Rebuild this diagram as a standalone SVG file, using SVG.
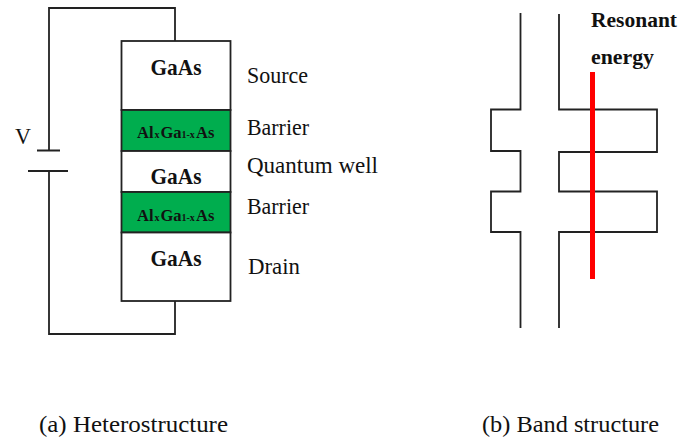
<svg xmlns="http://www.w3.org/2000/svg" width="678" height="439" viewBox="0 0 678 439">
<style>
text{font-family:"Liberation Serif","DejaVu Serif",serif;fill:#111}
.l{font-size:24px}
.b{font-weight:bold;font-size:23px}
.a{font-weight:bold;font-size:16.500px}
.s{font-size:10px}
.r{font-weight:bold;font-size:22px}
.w{fill:none;stroke:#222;stroke-width:1.800}
.c{fill:#fff;stroke:#222;stroke-width:1.800}
.g{fill:#00ad4e;stroke:#222;stroke-width:1.800}
</style>
<rect width="678" height="439" fill="#fff"/>
<g id="connectors">
<path class="w" d="M49 150V8H175V41"/>
<path class="w" d="M49 171V334H175V301"/>
<path class="w" d="M37 150.500H60M28 171H68"/>
</g>
<g id="stack">
<g id="source"><rect class="c" x="121.500" y="41" width="109" height="69"/><text class="b" x="176" y="75" text-anchor="middle" textLength="51" lengthAdjust="spacingAndGlyphs">GaAs</text></g>
<g id="barrier1"><rect class="g" x="121.500" y="110" width="109" height="41"/><text class="a" y="138"><tspan x="137">Al</tspan><tspan class="s" x="154.500">x</tspan><tspan x="160.500">Ga</tspan><tspan class="s" x="181.500">1-x</tspan><tspan x="196">As</tspan></text></g>
<g id="well"><rect class="c" x="121.500" y="151" width="109" height="41"/><text class="b" x="176" y="184" text-anchor="middle" textLength="51" lengthAdjust="spacingAndGlyphs">GaAs</text></g>
<g id="barrier2"><rect class="g" x="121.500" y="192" width="109" height="40.500"/><text class="a" y="221"><tspan x="137">Al</tspan><tspan class="s" x="154.500">x</tspan><tspan x="160.500">Ga</tspan><tspan class="s" x="181.500">1-x</tspan><tspan x="196">As</tspan></text></g>
<g id="drain"><rect class="c" x="121.500" y="232.500" width="109" height="68.500"/><text class="b" x="176" y="266" text-anchor="middle" textLength="51" lengthAdjust="spacingAndGlyphs">GaAs</text></g>
</g>
<g id="labels">
<text class="l" x="15" y="144" textLength="16" lengthAdjust="spacingAndGlyphs">V</text>
<text class="l" x="247" y="83" textLength="61" lengthAdjust="spacingAndGlyphs">Source</text>
<text class="l" x="247" y="135" textLength="62" lengthAdjust="spacingAndGlyphs">Barrier</text>
<text class="l" x="247" y="173" textLength="131" lengthAdjust="spacingAndGlyphs">Quantum well</text>
<text class="l" x="247" y="214" textLength="62" lengthAdjust="spacingAndGlyphs">Barrier</text>
<text class="l" x="248" y="274" textLength="52" lengthAdjust="spacingAndGlyphs">Drain</text>
<text class="l" x="39" y="432" textLength="189" lengthAdjust="spacingAndGlyphs">(a) Heterostructure</text>
<text class="l" x="482" y="432" textLength="177" lengthAdjust="spacingAndGlyphs">(b) Band structure</text>
</g>
<g id="band">
<path class="w" d="M520.500 13V109.500H491V151H520.500V191.500H491V232H520.500V328"/>
<path class="w" d="M559 14V109.500H657V152H559V191.500H657V232H559V328"/>
<path d="M592.500 72V279" fill="none" stroke="#f00" stroke-width="5"/>
<text class="r" x="591" y="27" textLength="86" lengthAdjust="spacingAndGlyphs">Resonant</text>
<text class="r" x="591" y="64" textLength="63" lengthAdjust="spacingAndGlyphs">energy</text>
</g>
</svg>
